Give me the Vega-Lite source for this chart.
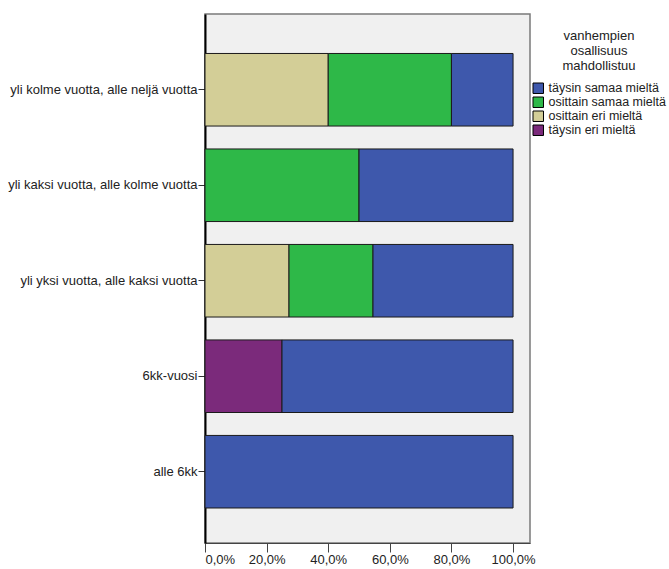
{
  "$schema": "https://vega.github.io/schema/vega-lite/v6.json",
  "autosize": {"type": "none"},
  "width": 325,
  "height": 529,
  "padding": {"left": 205, "top": 14, "right": 139, "bottom": 26},
  "background": "white",
  "config": {
    "font": "Liberation Sans",
    "view": {"fill": "#F0F0F0", "stroke": "#7a7a7a", "strokeWidth": 1.5}
  },
  "data": {
    "values": [
      {"group": "yli kolme vuotta, alle neljä vuotta", "response": "osittain eri mieltä", "value": 0.4},
      {"group": "yli kolme vuotta, alle neljä vuotta", "response": "osittain samaa mieltä", "value": 0.4},
      {"group": "yli kolme vuotta, alle neljä vuotta", "response": "täysin samaa mieltä", "value": 0.2},
      {"group": "yli kaksi vuotta, alle kolme vuotta", "response": "osittain samaa mieltä", "value": 0.5},
      {"group": "yli kaksi vuotta, alle kolme vuotta", "response": "täysin samaa mieltä", "value": 0.5},
      {"group": "yli yksi vuotta, alle kaksi vuotta", "response": "osittain eri mieltä", "value": 0.2727},
      {"group": "yli yksi vuotta, alle kaksi vuotta", "response": "osittain samaa mieltä", "value": 0.2727},
      {"group": "yli yksi vuotta, alle kaksi vuotta", "response": "täysin samaa mieltä", "value": 0.4546},
      {"group": "6kk-vuosi", "response": "täysin eri mieltä", "value": 0.25},
      {"group": "6kk-vuosi", "response": "täysin samaa mieltä", "value": 0.75},
      {"group": "alle 6kk", "response": "täysin samaa mieltä", "value": 1.0}
    ]
  },
  "transform": [
    {"calculate": "indexof(['täysin eri mieltä','osittain eri mieltä','osittain samaa mieltä','täysin samaa mieltä'], datum.response)", "as": "k"}
  ],
  "mark": {"type": "bar", "stroke": "#1a1a1a", "strokeWidth": 1},
  "encoding": {
    "y": {
      "field": "group",
      "type": "nominal",
      "sort": ["yli kolme vuotta, alle neljä vuotta", "yli kaksi vuotta, alle kolme vuotta", "yli yksi vuotta, alle kaksi vuotta", "6kk-vuosi", "alle 6kk"],
      "scale": {"paddingInner": 0.24, "paddingOuter": 0.39, "align": 0.53},
      "axis": {
        "title": null,
        "labelFontSize": 13,
        "labelLimit": 0,
        "labelColor": "#222",
        "domainColor": "#000",
        "domainWidth": 2,
        "tickColor": "#333",
        "tickSize": 7,
        "labelPadding": 1
      }
    },
    "x": {
      "field": "value",
      "type": "quantitative",
      "stack": "zero",
      "scale": {"domain": [0, 1.055], "nice": false},
      "axis": {
        "title": null,
        "values": [0, 0.2, 0.4, 0.6, 0.8, 1.0],
        "labelExpr": "replace(format(datum.value, '.1%'), '.', ',')",
        "labelFontSize": 13,
        "labelColor": "#222",
        "grid": false,
        "domainColor": "#444",
        "tickColor": "#444",
        "tickSize": 9,
        "labelPadding": 1
      }
    },
    "order": {"field": "k", "type": "quantitative"},
    "color": {
      "field": "response",
      "type": "nominal",
      "scale": {
        "domain": ["täysin samaa mieltä", "osittain samaa mieltä", "osittain eri mieltä", "täysin eri mieltä"],
        "range": ["#3E58AC", "#2EB848", "#D3CE97", "#7B2A7B"]
      },
      "legend": {
        "title": ["vanhempien", "osallisuus", "mahdollistuu"],
        "orient": "none",
        "legendX": 327,
        "legendY": 16,
        "titleFontSize": 13,
        "titleFontWeight": "normal",
        "titleColor": "#222",
        "titleAnchor": "middle",
        "titleAlign": "center",
        "titleLineHeight": 15,
        "titlePadding": 9,
        "labelFontSize": 12.5,
        "labelColor": "#222",
        "symbolType": "square",
        "symbolSize": 110,
        "symbolStrokeColor": "#000",
        "symbolStrokeWidth": 1,
        "symbolOpacity": 1,
        "labelOffset": 4,
        "rowPadding": -3.5
      }
    }
  }
}
